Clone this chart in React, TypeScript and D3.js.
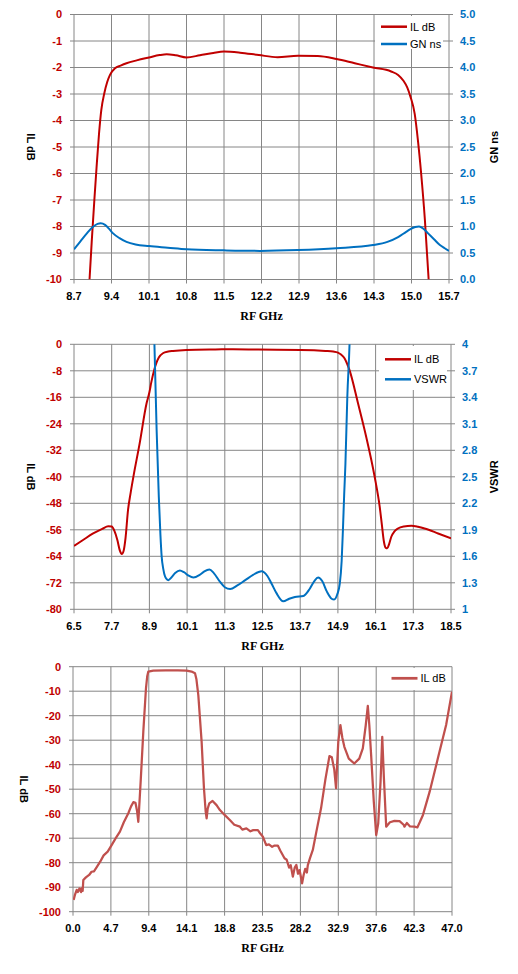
import * as d3 from "d3";

// ---- chart 1: IL dB + GN ns, 8.7..15.7 GHz ----
const c1Ticks = [8.7, 9.4, 10.1, 10.8, 11.5, 12.2, 12.9, 13.6, 14.3, 15.0, 15.7];
const c1IL: [number, number][] = [
  [8.99, -10], [9.03, -8.6], [9.08, -7.0], [9.12, -5.8], [9.167, -4.5], [9.21, -3.6],
  [9.266, -2.97], [9.32, -2.55], [9.372, -2.28], [9.466, -2.03], [9.57, -1.93],
  [9.68, -1.84], [9.87, -1.73], [10.1, -1.62], [10.3, -1.53], [10.43, -1.5],
  [10.6, -1.54], [10.8, -1.62], [11.05, -1.54], [11.3, -1.45], [11.5, -1.4],
  [11.8, -1.44], [12.15, -1.53], [12.5, -1.61], [12.88, -1.56], [13.25, -1.57],
  [13.6, -1.68], [13.94, -1.84], [14.28, -2.0], [14.62, -2.15], [14.75, -2.28],
  [14.85, -2.5], [14.92, -2.75], [14.98, -3.1], [15.06, -3.75], [15.12, -4.75],
  [15.18, -6.0], [15.25, -7.75], [15.32, -10],
];
const c1GN: [number, number][] = [
  [8.7, 0.57], [8.82, 0.72], [8.94, 0.87], [9.05, 0.99], [9.14, 1.05], [9.2, 1.06],
  [9.28, 1.03], [9.36, 0.95], [9.43, 0.87], [9.55, 0.78], [9.68, 0.71], [9.85, 0.66],
  [10.1, 0.63], [10.45, 0.6], [10.8, 0.57], [11.5, 0.55], [12.17, 0.54], [12.88, 0.555],
  [13.6, 0.59], [14.28, 0.65], [14.55, 0.71], [14.75, 0.8], [14.9, 0.9], [14.98, 0.95],
  [15.07, 0.99], [15.14, 1.0], [15.22, 0.96], [15.31, 0.87], [15.42, 0.76],
  [15.53, 0.65], [15.62, 0.59], [15.7, 0.54],
];
const c1LeftTicks = d3.range(0, -11, -1);
const c1RightTicks = [5.0, 4.5, 4.0, 3.5, 3.0, 2.5, 2.0, 1.5, 1.0, 0.5, 0.0];

// ---- chart 2: IL dB + VSWR, 6.5..18.5 GHz ----
const c2Ticks = [6.5, 7.7, 8.9, 10.1, 11.3, 12.5, 13.7, 14.9, 16.1, 17.3, 18.5];
const c2IL: [number, number][] = [
  [6.5, -60.9], [6.8, -59.0], [7.11, -57.1], [7.4, -55.7], [7.59, -54.9], [7.7, -55.0],
  [7.78, -56.2], [7.88, -59.1], [7.96, -62.3], [8.02, -63.3], [8.08, -62.3],
  [8.14, -58.5], [8.22, -50.0], [8.3, -45], [8.39, -40], [8.59, -29.9], [8.81, -17.8],
  [8.9, -14.5], [8.96, -11.5], [9.05, -7.8], [9.12, -5.7], [9.2, -4.0], [9.33, -2.7],
  [9.5, -2.2], [9.65, -2.0], [10.08, -1.7], [11.0, -1.55], [11.56, -1.5], [12.36, -1.6],
  [13.72, -1.7], [14.5, -2.0], [14.75, -2.2], [14.9, -2.5], [15.0, -3.1], [15.11, -4.2],
  [15.19, -5.8], [15.27, -7.8], [15.54, -17.8], [15.8, -27.9], [16.07, -40],
  [16.23, -49], [16.3, -54.5], [16.36, -59.3], [16.42, -61.4], [16.47, -61.6],
  [16.53, -60.3], [16.6, -58.1], [16.7, -56.5], [16.81, -55.6], [17.0, -55.0],
  [17.24, -54.8], [17.45, -55.1], [17.66, -55.6], [18.09, -57.1], [18.5, -58.6],
];
const c2VSWR: [number, number][] = [
  [9.03, 4.4], [9.06, 4.0], [9.1, 3.45], [9.13, 3.03], [9.2, 2.27], [9.25, 1.85],
  [9.29, 1.6], [9.34, 1.46], [9.4, 1.37], [9.5, 1.33], [9.6, 1.36], [9.72, 1.41],
  [9.87, 1.44], [10.0, 1.42], [10.15, 1.38], [10.3, 1.36], [10.5, 1.39], [10.65, 1.43],
  [10.81, 1.45], [10.95, 1.41], [11.15, 1.31], [11.3, 1.25], [11.47, 1.23], [11.7, 1.27],
  [11.95, 1.33], [12.2, 1.39], [12.47, 1.43], [12.65, 1.38], [12.79, 1.29],
  [12.95, 1.18], [13.16, 1.09], [13.35, 1.12], [13.53, 1.14], [13.8, 1.15], [14.0, 1.23],
  [14.15, 1.32], [14.27, 1.36], [14.4, 1.32], [14.55, 1.2], [14.7, 1.12], [14.78, 1.11],
  [14.88, 1.17], [14.96, 1.29], [15.02, 1.55], [15.06, 1.9], [15.1, 2.3], [15.14, 2.65],
  [15.2, 3.41], [15.27, 4.0], [15.3, 4.4],
];
const c2LeftTicks = d3.range(0, -88, -8);
const c2RightTicks = ["4", "3.7", "3.4", "3.1", "2.8", "2.5", "2.2", "1.9", "1.6", "1.3", "1"];

// ---- chart 3: IL dB wideband, 0..47 GHz ----
const c3Ticks = [0.0, 4.7, 9.4, 14.1, 18.8, 23.5, 28.2, 32.9, 37.6, 42.3, 47.0];
const c3IL: [number, number][] = [
  [0.08, -95.2], [0.25, -93], [0.46, -91.1], [0.6, -92], [0.8, -90.5], [1.0, -92],
  [1.08, -90.5], [1.2, -91.5], [1.28, -87.1], [1.6, -86], [2.0, -85], [2.3, -83.7],
  [2.6, -83.5], [3.0, -81.5], [3.37, -79.6], [3.8, -77], [4.3, -75.5], [4.79, -72.8],
  [5.3, -70], [5.82, -67.3], [6.3, -63.5], [6.86, -59.8], [7.2, -57], [7.48, -55.3],
  [7.75, -55.6], [7.95, -59], [8.1, -63.3], [8.25, -55], [8.39, -46.9], [8.72, -26.5],
  [9.05, -8.8], [9.2, -4], [9.34, -2.0], [9.96, -1.6], [11.5, -1.45], [13.0, -1.5],
  [14.1, -1.6], [14.7, -2.0], [15.13, -2.7], [15.3, -5], [15.54, -11.6], [15.95, -30.6],
  [16.24, -49.6], [16.45, -59], [16.57, -61.9], [16.7, -58], [16.9, -55.8],
  [17.31, -54.8], [17.8, -56.5], [18.22, -58.5], [18.8, -60.5], [19.45, -62.6],
  [20.0, -64.5], [20.7, -65.3], [21.0, -66.5], [21.5, -66.0], [22.0, -67.2],
  [22.35, -66.7], [22.93, -66.7], [23.2, -68], [23.55, -69.4], [23.96, -72.8],
  [24.3, -72.5], [24.7, -73.5], [25.0, -73], [25.4, -73], [25.7, -75], [26.23, -78.2],
  [26.5, -78.8], [26.8, -82], [27.0, -81], [27.26, -85.7], [27.5, -82], [27.7, -80.9],
  [27.9, -84.5], [28.1, -83], [28.41, -88.4], [28.6, -85], [28.8, -82.5], [29.0, -84],
  [29.12, -81], [29.4, -78], [29.74, -74.8], [30.2, -67], [30.76, -57.8], [31.3, -46],
  [31.8, -36.5], [32.1, -37], [32.4, -42], [32.62, -49.6], [32.75, -40], [32.9, -30.6],
  [33.16, -23.8], [33.4, -29], [33.65, -32.7], [34.2, -37.5], [34.88, -39.5],
  [35.5, -37.5], [35.94, -33.3], [36.3, -24], [36.56, -16.0], [36.75, -24], [36.97, -36],
  [37.3, -55], [37.6, -68.7], [37.85, -64], [38.14, -46.9], [38.35, -28.6], [38.55, -45],
  [38.84, -65.3], [39.3, -63.5], [39.87, -62.9], [40.5, -63], [41.0, -64.5],
  [41.11, -65.3], [41.4, -63.8], [41.8, -65.2], [42.35, -65.3], [42.7, -65.6],
  [43.0, -63.5], [43.4, -60.5], [44.23, -51.0], [45.25, -37.4], [46.27, -23.8],
  [47.0, -10.2],
];
const c3LeftTicks = d3.range(0, -110, -10);

const RED = "#C00000";
const BLUE = "#0070C0";
const RED3 = "#C0504D";
const GRID = "#868686";
const TICK_FONT = "'Liberation Sans', Arial, sans-serif";

type Series = { name: string; data: [number, number][]; color: string; axis: "left" | "right"; width: number };

function Chart(props: {
  id: string;
  left: number; right: number; top: number; bottom: number;
  xTicks: number[]; xFmt: (v: number) => string;
  leftDomain: [number, number]; leftTicks: number[]; leftColor: string;
  rightDomain?: [number, number]; rightTicks?: string[];
  leftTitle: string; leftTitleX: number; rightTitle?: string;
  series: Series[];
  legend: { x: number; y: number; w: number; h: number; lx: number; ly: number; dy: number };
  curve: d3.CurveFactory;
}) {
  const { left, right, top, bottom } = props;
  const x = d3.scaleLinear().domain([props.xTicks[0], props.xTicks[props.xTicks.length - 1]]).range([left, right]);
  const yL = d3.scaleLinear().domain(props.leftDomain).range([bottom, top]);
  const yR = props.rightDomain ? d3.scaleLinear().domain(props.rightDomain).range([bottom, top]) : yL;
  const nRows = props.leftTicks.length;
  const rowY = (i: number) => top + ((bottom - top) * i) / (nRows - 1);
  const midY = (top + bottom) / 2;
  const lg = props.legend;

  return (
    <g>
      <defs>
        <clipPath id={props.id}>
          <rect x={left} y={top} width={right - left} height={bottom - top} />
        </clipPath>
      </defs>
      {/* grid */}
      {props.leftTicks.map((t) => (
        <line key={"h" + t} x1={left} x2={right} y1={yL(t)} y2={yL(t)} stroke={GRID} strokeWidth={1} />
      ))}
      {props.xTicks.map((t) => (
        <line key={"v" + t} x1={x(t)} x2={x(t)} y1={top} y2={bottom} stroke={GRID} strokeWidth={1} />
      ))}
      {/* tick marks */}
      {props.leftTicks.map((t) => (
        <line key={"lt" + t} x1={left - 4} x2={left} y1={yL(t)} y2={yL(t)} stroke={GRID} />
      ))}
      {props.xTicks.map((t) => (
        <line key={"bt" + t} x1={x(t)} x2={x(t)} y1={bottom} y2={bottom + 4} stroke={GRID} />
      ))}
      {props.rightTicks &&
        props.rightTicks.map((_, i) => (
          <line key={"rt" + i} x1={right} x2={right + 4} y1={rowY(i)} y2={rowY(i)} stroke={GRID} />
        ))}
      {/* tick labels */}
      <g fontFamily={TICK_FONT} fontWeight="bold" fontSize={11}>
        {props.leftTicks.map((t) => (
          <text key={"ll" + t} x={left - 12} y={yL(t)} dy="0.35em" textAnchor="end" fill={props.leftColor}>
            {String(t)}
          </text>
        ))}
        {props.rightTicks &&
          props.rightTicks.map((t, i) => (
            <text key={"rl" + i} x={right + 11} y={rowY(i)} dy="0.35em" fill={BLUE}>
              {t}
            </text>
          ))}
        {props.xTicks.map((t) => (
          <text key={"xl" + t} x={x(t)} y={bottom + 20.5} textAnchor="middle" fill="#000">
            {props.xFmt(t)}
          </text>
        ))}
        <text transform={`translate(${props.leftTitleX},${midY}) rotate(90)`} textAnchor="middle" fill="#000">
          {props.leftTitle}
        </text>
        {props.rightTitle && (
          <text transform={`translate(498,${midY}) rotate(-90)`} textAnchor="middle" fill="#000">
            {props.rightTitle}
          </text>
        )}
      </g>
      <text
        x={(left + right) / 2}
        y={bottom + 40.5}
        textAnchor="middle"
        fontFamily="'Liberation Serif', 'Times New Roman', serif"
        fontWeight="bold"
        fontSize={12}
      >
        RF GHz
      </text>
      {/* series */}
      <g clipPath={`url(#${props.id})`}>
        {props.series.map((s) => {
          const ys = s.axis === "left" ? yL : yR;
          const path = d3
            .line<[number, number]>()
            .x((d) => x(d[0]))
            .y((d) => ys(d[1]))
            .curve(props.curve)(s.data);
          return (
            <path key={s.name} d={path ?? ""} fill="none" stroke={s.color} strokeWidth={s.width} strokeLinejoin="round" />
          );
        })}
      </g>
      {/* legend */}
      <rect x={lg.x} y={lg.y} width={lg.w} height={lg.h} fill="#fff" />
      {props.series.map((s, i) => (
        <g key={"lg" + s.name}>
          <line x1={lg.lx} x2={lg.lx + 26} y1={lg.ly + i * lg.dy} y2={lg.ly + i * lg.dy} stroke={s.color} strokeWidth={s.width + 0.5} />
          <text x={lg.lx + 29} y={lg.ly + i * lg.dy} dy="0.35em" fontFamily={TICK_FONT} fontSize={11} fill="#000">
            {s.name}
          </text>
        </g>
      ))}
    </g>
  );
}

export default function App() {
  const f1 = (v: number) => v.toFixed(1);
  return (
    <svg
      width={518}
      height={974}
      style={{ position: "absolute", left: 0, top: 0, display: "block", background: "#fff" }}
    >
      <Chart
        id="c1"
        left={74} right={449} top={14.5} bottom={279.5}
        xTicks={c1Ticks} xFmt={f1}
        leftDomain={[-10, 0]} leftTicks={c1LeftTicks} leftColor={RED}
        rightDomain={[0, 5]} rightTicks={c1RightTicks.map(f1)}
        leftTitle="IL dB" leftTitleX={27} rightTitle="GN ns"
        series={[
          { name: "IL dB", data: c1IL, color: RED, axis: "left", width: 2 },
          { name: "GN ns", data: c1GN, color: BLUE, axis: "right", width: 2 },
        ]}
        legend={{ x: 375, y: 16, w: 68, h: 33, lx: 381, ly: 26.7, dy: 17.3 }}
        curve={d3.curveMonotoneX}
      />
      <Chart
        id="c2"
        left={74} right={451} top={344.3} bottom={609.3}
        xTicks={c2Ticks} xFmt={f1}
        leftDomain={[-80, 0]} leftTicks={c2LeftTicks} leftColor={RED}
        rightDomain={[1, 4]} rightTicks={c2RightTicks}
        leftTitle="IL dB" leftTitleX={27} rightTitle="VSWR"
        series={[
          { name: "IL dB", data: c2IL, color: RED, axis: "left", width: 2 },
          { name: "VSWR", data: c2VSWR, color: BLUE, axis: "right", width: 2 },
        ]}
        legend={{ x: 379, y: 346, w: 68, h: 44, lx: 385, ly: 359.3, dy: 20 }}
        curve={d3.curveMonotoneX}
      />
      <Chart
        id="c3"
        left={73} right={452} top={666.7} bottom={911.7}
        xTicks={c3Ticks} xFmt={f1}
        leftDomain={[-100, 0]} leftTicks={c3LeftTicks} leftColor={RED}
        leftTitle="IL dB" leftTitleX={20}
        series={[{ name: "IL dB", data: c3IL, color: RED3, axis: "left", width: 2.25 }]}
        legend={{ x: 380, y: 668, w: 70, h: 22, lx: 391.5, ly: 678.3, dy: 20 }}
        curve={d3.curveLinear}
      />
    </svg>
  );
}
